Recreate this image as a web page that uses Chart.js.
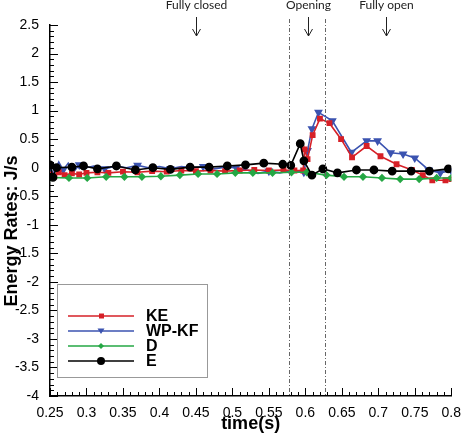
<!DOCTYPE html>
<html>
<head>
<meta charset="utf-8">
<script src="https://cdn.jsdelivr.net/npm/chart.js@4.4.0/dist/chart.umd.min.js"></script>
<style>
  html, body { margin: 0; padding: 0; background: #fff; }
</style>
</head>
<body>
<canvas id="myChart" width="470" height="438"></canvas>
<script>
// values: time (s) and energy rates (J/s)
const keTime = [0.25, 0.256, 0.262, 0.27, 0.28, 0.29, 0.3, 0.315, 0.33, 0.35, 0.37, 0.39, 0.41, 0.43, 0.45, 0.47, 0.49, 0.51, 0.53, 0.55, 0.57, 0.585, 0.597, 0.599, 0.603, 0.61, 0.62, 0.633, 0.649, 0.664, 0.684, 0.703, 0.725, 0.746, 0.761, 0.774, 0.792, 0.8]
const keRate = [-0.12, -0.15, -0.08, -0.13, -0.1, -0.12, -0.09, -0.08, -0.09, -0.07, -0.08, -0.06, -0.07, -0.05, -0.06, -0.05, -0.06, -0.05, -0.04, -0.05, -0.04, -0.05, -0.05, 0.32, 0.15, 0.57, 0.86, 0.78, 0.5, 0.18, 0.38, 0.2, 0.06, -0.04, -0.13, -0.22, -0.22, -0.2]

const wpTime = [0.25, 0.255, 0.262, 0.268, 0.275, 0.282, 0.29, 0.3, 0.31, 0.325, 0.34, 0.355, 0.37, 0.385, 0.4, 0.415, 0.43, 0.445, 0.46, 0.475, 0.49, 0.505, 0.52, 0.535, 0.55, 0.565, 0.58, 0.598, 0.603, 0.609, 0.618, 0.637, 0.663, 0.684, 0.699, 0.717, 0.734, 0.75, 0.769, 0.785, 0.8]
const wpRate = [0.0, -0.1, 0.1, -0.04, 0.08, -0.08, 0.05, 0.0, 0.03, -0.02, 0.03, 0.0, 0.04, 0.0, 0.02, -0.02, 0.02, 0.0, 0.02, -0.02, 0.01, 0.0, -0.04, -0.1, -0.06, -0.09, -0.05, -0.08, 0.3, 0.68, 0.97, 0.82, 0.27, 0.47, 0.47, 0.26, 0.24, 0.17, -0.04, -0.09, -0.05]

const dTime = [0.25, 0.276, 0.301, 0.327, 0.352, 0.376, 0.402, 0.428, 0.453, 0.479, 0.504, 0.528, 0.555, 0.581, 0.602, 0.629, 0.653, 0.679, 0.705, 0.73, 0.756, 0.78, 0.8]
const dRate = [-0.17, -0.18, -0.18, -0.16, -0.16, -0.16, -0.15, -0.13, -0.11, -0.11, -0.09, -0.09, -0.09, -0.08, -0.08, -0.13, -0.16, -0.16, -0.18, -0.2, -0.2, -0.18, -0.18]

const eTime = [0.25, 0.254, 0.259, 0.28, 0.296, 0.315, 0.341, 0.367, 0.391, 0.415, 0.442, 0.468, 0.493, 0.518, 0.543, 0.569, 0.58, 0.593, 0.598, 0.609, 0.624, 0.644, 0.67, 0.694, 0.719, 0.745, 0.77, 0.796]
const eRate = [0.05, -0.17, 0.0, 0.01, 0.03, -0.02, 0.03, -0.04, 0.0, -0.03, 0.01, 0.01, 0.03, 0.05, 0.08, 0.06, 0.04, 0.42, 0.12, -0.13, -0.02, -0.09, -0.04, -0.04, -0.06, -0.06, -0.06, -0.02]

const xTicks = [0.25, 0.3, 0.35, 0.4, 0.45, 0.5, 0.55, 0.6, 0.65, 0.7, 0.75, 0.8]
const yTicks = [-4, -3.5, -3, -2.5, -2, -1.5, -1, -0.5, 0, 0.5, 1, 1.5, 2, 2.5]

// valve phases
const phaseBounds = [0.577, 0.627]
const phaseNames = ['Fully closed', 'Opening', 'Fully open']
const phaseAt = [0.45, 0.604, 0.711]

const seriesNames = ['KE', 'WP-KF', 'D', 'E']
const seriesColors = ['#d62027', '#3b53b0', '#25a744', '#000000']

const pairs = (t, v) => t.map((e, i) => ({ x: e, y: v[i] }))

// draws inward tecplot ticks, y title, the phase marks and the boxed legend
const decorations = {
    id: 'decorations',
    afterDraw(chart) {
        const { ctx, chartArea, scales: { x, y } } = chart
        ctx.save()

        ctx.strokeStyle = '#000'
        ctx.lineWidth = 1
        ctx.beginPath()
        for (let i = 0; i < xTicks.length; i++) {
            for (let k = 0; k < 5; k++) {
                if (k > 0 && i === xTicks.length - 1) break
                const v = xTicks[i] + k * 0.01
                const px = Math.round(x.getPixelForValue(v)) + 0.5
                const len = k === 0 ? 8 : 4
                ctx.moveTo(px, chartArea.bottom)
                ctx.lineTo(px, chartArea.bottom - len)
            }
        }
        for (let i = 0; i < yTicks.length; i++) {
            for (let k = 0; k < 5; k++) {
                if (k > 0 && i === yTicks.length - 1) break
                const v = yTicks[i] + k * 0.1
                const py = Math.round(y.getPixelForValue(v)) + 0.5
                const len = k === 0 ? 8 : 4
                ctx.moveTo(chartArea.left, py)
                ctx.lineTo(chartArea.left + len, py)
            }
        }
        ctx.stroke()

        // y title (sits a bit below the middle of the axis in the original)
        ctx.save()
        ctx.translate(12, 231)
        ctx.rotate(-Math.PI / 2)
        ctx.fillStyle = '#000'
        ctx.font = 'bold 18px Arial, "Liberation Sans"'
        ctx.textAlign = 'center'
        ctx.textBaseline = 'middle'
        ctx.fillText('Energy Rates: J/s', 0, 0)
        ctx.restore()

        // dash-dot phase boundaries
        ctx.strokeStyle = '#666'
        ctx.setLineDash([4, 2, 1, 2])
        ctx.beginPath()
        phaseBounds.forEach(t => {
            const px = Math.round(x.getPixelForValue(t)) + 0.5
            ctx.moveTo(px, 19)
            ctx.lineTo(px, chartArea.bottom)
        })
        ctx.stroke()
        ctx.setLineDash([])

        // arrows + labels
        ctx.strokeStyle = '#222'
        ctx.fillStyle = '#222'
        ctx.font = '12px Lato'
        ctx.textAlign = 'center'
        ctx.textBaseline = 'alphabetic'
        phaseAt.forEach((t, i) => {
            const px = Math.round(x.getPixelForValue(t)) + 0.5
            ctx.beginPath()
            ctx.moveTo(px, 17)
            ctx.lineTo(px, 36)
            ctx.moveTo(px - 4, 29)
            ctx.lineTo(px, 36)
            ctx.lineTo(px + 4, 29)
            ctx.stroke()
            ctx.fillText(phaseNames[i], px, 9)
        })

        // legend box
        ctx.strokeStyle = '#999'
        ctx.strokeRect(57.5, 284.5, 150, 93)
        ctx.font = 'bold 16px Arial, "Liberation Sans"'
        ctx.textAlign = 'left'
        ctx.textBaseline = 'middle'
        seriesNames.forEach((name, i) => {
            const ly = 316 + i * 15
            const c = seriesColors[i]
            ctx.strokeStyle = c
            ctx.fillStyle = c
            ctx.lineWidth = 1.5
            ctx.beginPath()
            ctx.moveTo(68, ly)
            ctx.lineTo(134, ly)
            ctx.stroke()
            ctx.beginPath()
            if (i === 0) {
                ctx.rect(99, ly - 2.5, 5, 5)
            } else if (i === 1) {
                ctx.moveTo(97.5, ly - 2.5)
                ctx.lineTo(104.5, ly - 2.5)
                ctx.lineTo(101, ly + 3)
                ctx.closePath()
            } else if (i === 2) {
                ctx.moveTo(101, ly - 3)
                ctx.lineTo(104, ly)
                ctx.lineTo(101, ly + 3)
                ctx.lineTo(98, ly)
                ctx.closePath()
            } else {
                ctx.arc(101, ly, 4, 0, Math.PI * 2)
            }
            ctx.fill()
            ctx.fillStyle = '#000'
            ctx.fillText(name, 146, ly + 1)
        })

        ctx.restore()
    }
}

const ctx = document.getElementById('myChart').getContext('2d')

const myChart = new Chart(ctx, {
    type: 'line',
    data: {
        datasets: [
            {
                label: 'KE',
                data: pairs(keTime, keRate),
                borderColor: seriesColors[0],
                backgroundColor: seriesColors[0],
                pointStyle: 'rect',
                pointRadius: 3,
                borderWidth: 1.6,
                order: 3
            },
            {
                label: 'WP-KF',
                data: pairs(wpTime, wpRate),
                borderColor: seriesColors[1],
                backgroundColor: seriesColors[1],
                pointStyle: 'triangle',
                rotation: 180,
                pointRadius: c => (c.raw && c.raw.x < 0.598 && c.dataIndex % 3 !== 0) ? 0 : 3.5,
                borderWidth: 1.6,
                order: 4
            },
            {
                label: 'D',
                data: pairs(dTime, dRate),
                borderColor: seriesColors[2],
                backgroundColor: seriesColors[2],
                pointStyle: 'rectRot',
                pointRadius: 3,
                borderWidth: 1.6,
                order: 2
            },
            {
                label: 'E',
                data: pairs(eTime, eRate),
                borderColor: seriesColors[3],
                backgroundColor: seriesColors[3],
                pointStyle: 'circle',
                pointRadius: 3.6,
                borderWidth: 1.6,
                order: 1
            }
        ]
    },
    options: {
        responsive: false,
        animation: false,
        layout: { padding: { left: 0, right: 11, top: 25, bottom: 0 } },
        elements: { line: { tension: 0, fill: false } },
        plugins: {
            legend: { display: false },
            tooltip: { enabled: false }
        },
        scales: {
            x: {
                type: 'linear',
                min: 0.25,
                max: 0.8,
                afterFit: s => { s.height = 42 },
                afterBuildTicks: s => { s.ticks = xTicks.map(v => ({ value: v })) },
                grid: { display: false, drawTicks: false },
                border: { display: true, color: '#000', width: 1.5 },
                ticks: {
                    padding: 9,
                    color: '#000',
                    font: { family: 'Arial, "Liberation Sans"', size: 14 },
                    maxRotation: 0,
                    callback: v => String(+v.toFixed(2))
                },
                title: {
                    display: true,
                    text: 'time(s)',
                    color: '#000',
                    font: { family: 'Arial, "Liberation Sans"', size: 18, weight: 'bold' },
                    padding: { top: 0, bottom: 3 }
                }
            },
            y: {
                min: -4,
                max: 2.5,
                afterFit: s => { s.width = 50 },
                afterBuildTicks: s => { s.ticks = yTicks.map(v => ({ value: v })) },
                grid: { display: false, drawTicks: false },
                border: { display: true, color: '#000', width: 1.5 },
                ticks: {
                    padding: 11,
                    color: '#000',
                    font: { family: 'Arial, "Liberation Sans"', size: 14 },
                    callback: v => String(+v.toFixed(1))
                }
            }
        }
    },
    plugins: [decorations]
})
</script>
</body>
</html>
